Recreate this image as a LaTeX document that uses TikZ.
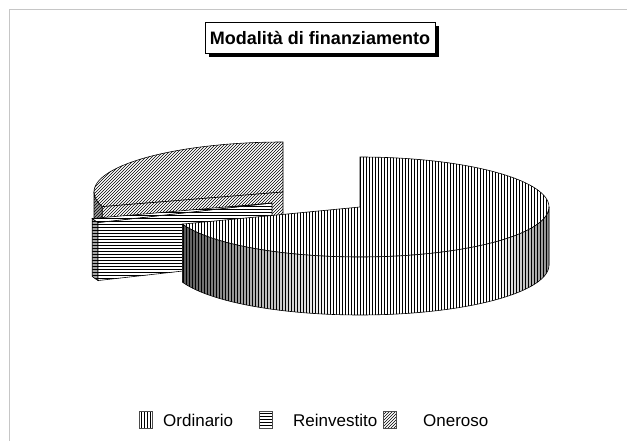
\documentclass[tikz,border=0pt]{standalone}
\usepackage{fontspec}
\setmainfont{Liberation Sans}
\usetikzlibrary{patterns,shadows}
\pgfdeclarehorizontalshading{sideshade}{100bp}{rgb(0bp)=(.35,.35,.35); rgb(25bp)=(.35,.35,.35); rgb(35bp)=(.7,.7,.7); rgb(46bp)=(1,1,1); rgb(68bp)=(1,1,1); rgb(75bp)=(.55,.55,.55); rgb(100bp)=(.55,.55,.55)}
\tikzset{
  edge/.style={draw=black, line width=0.6pt},
  vpat/.style={pattern=vertical lines, pattern color=black},
  hpat/.style={pattern=horizontal lines, pattern color=black},
  dpat/.style={pattern=north east lines, pattern color=black},
  titlebox/.style={draw=black, line width=0.6pt, fill=white, inner xsep=5pt, minimum height=31pt,
     font=\fontsize{18}{21}\selectfont\bfseries,
     drop shadow={shadow xshift=4pt, shadow yshift=-4pt, fill=black, opacity=1}},
  swatch/.style={draw=black!70, line width=0.5pt, minimum width=13pt, minimum height=17pt, inner sep=0pt},
  legtext/.style={anchor=base west, inner sep=0pt, font=\fontsize{17}{20}\selectfont},
}
\def\rx{189}
\def\ry{50}
\begin{document}
\begin{tikzpicture}[x=1pt,y=-1pt]
\useasboundingbox (0,0) rectangle (627,441);
\fill[white] (0,0) rectangle (627,441);
% frame
\draw[gray!45, line width=1pt] (9,441) -- (9,10) -- (627,10);

% ---------- Oneroso (centre 283,192; 90..197) ----------
\def\Otop{(283,192) -- plot[domain=90:197,samples=60] ({283+\rx*cos(\x)},{192-\ry*sin(\x)}) -- cycle}
\def\Oside{plot[domain=180:197,samples=20] ({283+\rx*cos(\x)},{192-\ry*sin(\x)}) -- plot[domain=197:180,samples=20] ({283+\rx*cos(\x)},{250-\ry*sin(\x)}) -- cycle}
\def\Oface{(283,192) -- ({283+\rx*cos(197)},{192-\ry*sin(197)}) -- ({283+\rx*cos(197)},{250-\ry*sin(197)}) -- (283,250) -- cycle}
\fill[white] \Otop; \path[dpat] \Otop; \draw[edge] \Otop;
\fill[gray!75] \Oside; \path[dpat] \Oside; \draw[edge] \Oside;
\fill[white] \Oface; \path[dpat] \Oface; \draw[edge] \Oface;

% ---------- Reinvestito (centre 272,203; 198..203) ----------
\def\Rside{plot[domain=198:203,samples=20] ({272+\rx*cos(\x)},{203-\ry*sin(\x)}) -- plot[domain=203:198,samples=20] ({272+\rx*cos(\x)},{261-\ry*sin(\x)}) -- cycle}
\def\Rface{(272,203) -- ({272+\rx*cos(203)},{203-\ry*sin(203)}) -- ({272+\rx*cos(203)},{261-\ry*sin(203)}) -- (272,261) -- cycle}
\def\Rtop{(272,203) -- plot[domain=198:203,samples=20] ({272+\rx*cos(\x)},{203-\ry*sin(\x)}) -- cycle}
\fill[gray!70] \Rside; \path[hpat] \Rside; \draw[edge] \Rside;
\fill[white] \Rface; \path[hpat] \Rface; \draw[edge] \Rface;
\fill[white] \Rtop; \path[hpat] \Rtop; \draw[edge] \Rtop;

% ---------- Ordinario (centre 360,207; 200..450) ----------
\def\Itop{(360,207) -- plot[domain=200:450,samples=120] ({360+\rx*cos(\x)},{207-\ry*sin(\x)}) -- cycle}
\def\Iside{plot[domain=200:360,samples=90] ({360+\rx*cos(\x)},{207-\ry*sin(\x)}) -- plot[domain=360:200,samples=90] ({360+\rx*cos(\x)},{265-\ry*sin(\x)}) -- cycle}
\fill[white] \Itop; \path[vpat] \Itop; \draw[edge] \Itop;
\shade[shading=sideshade] \Iside;
\path[vpat] \Iside; \draw[edge] \Iside;

% ---------- title ----------
\node[titlebox] (title) at (320,38) {Modalità di finanziamento};

% ---------- legend ----------
\node[swatch, vpat] (s1) at (146,420) {};
\node[legtext] (l1) at (163,426) {Ordinario};
\node[swatch, hpat] (s2) at (266,420) {};
\node[legtext] (l2) at (293,426) {Reinvestito};
\node[swatch, dpat] (s3) at (390,420) {};
\node[legtext] (l3) at (423,426) {Oneroso};
\end{tikzpicture}
\end{document}
